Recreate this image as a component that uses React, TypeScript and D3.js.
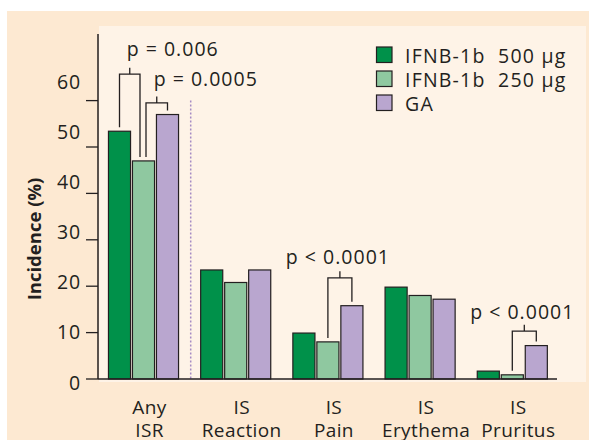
import React from "react";
import * as d3 from "d3";

const categoryTop = ["Any", "IS", "IS", "IS", "IS"];
const categoryBottom = ["ISR", "Reaction", "Pain", "Erythema", "Pruritus"];
const seriesNames = ["IFNB-1b  500 μg", "IFNB-1b  250 μg", "GA"];
const values500 = [53.4, 23.5, 9.9, 19.8, 1.7];
const values250 = [47.0, 20.8, 8.0, 18.0, 0.9];
const valuesGA = [57.0, 23.5, 15.8, 17.2, 7.2];
const yTicks = [0, 10, 20, 30, 40, 50, 60];
const yTitle = "Incidence (%)";

// p-value brackets: category index, from bar, to bar, bracket level (%), label level (%)
const bracketCat = [0, 0, 2, 4];
const bracketFrom = [0, 1, 1, 1];
const bracketTo = [1, 2, 2, 2];
const bracketLevel = [65.7, 59.5, 21.8, 10.3];
const bracketLabelLevel = [69.6, 63.1, 24.7, 12.9];
const bracketLabels = ["p = 0.006", "p = 0.0005", "p < 0.0001", "p < 0.0001"];

const W = 589;
const H = 440;
const FONT = "'Open Sans', Lato, sans-serif";
const colors = ["#00914a", "#8fc8a0", "#b9a6cf"];
const ink = "#231f20";
const FS = 19.5;
const LS = 0.8;

export default function App() {
  const series = [values500, values250, valuesGA];
  const y = d3.scaleLinear().domain([0, 60]).range([379, 100.6]);
  const yLabel = d3.scaleLinear().domain([0, 60]).range([382, 81]);
  const x = d3
    .scaleBand<number>()
    .domain(d3.range(categoryTop.length))
    .range([97.4, 558.4])
    .paddingInner(0.24)
    .paddingOuter(0.12);
  const xi = d3
    .scaleBand<number>()
    .domain([0, 1, 2])
    .range([0, x.bandwidth()])
    .paddingInner(0.08);
  const barCenter = (c: number, s: number) =>
    (x(c) as number) + (xi(s) as number) + xi.bandwidth() / 2;
  const nudgeFrom = [0, 2.5, 0, 0];
  const nudgeTo = [-3.5, 0, 0, 0];

  return (
    <svg
      width={W}
      height={H}
      style={{ position: "absolute", left: 0, top: 0 }}
      fontFamily={FONT}
    >
      <rect x={0} y={0} width={W} height={H} fill="#ffffff" />
      <rect x={7} y={11} width={W - 7} height={H - 11} fill="#fde9d2" />
      <rect x={99} y={26} width={487} height={356} fill="#fef3e7" />

      {/* dotted separator */}
      <line
        x1={190.7}
        x2={190.7}
        y1={y(60)}
        y2={y(0)}
        stroke="#a58cc4"
        strokeWidth={1.5}
        strokeDasharray="2,2"
      />

      {/* bars */}
      {categoryTop.map((_, c) =>
        series.map((vals, s) => (
          <rect
            key={`b${c}-${s}`}
            x={(x(c) as number) + (xi(s) as number)}
            y={y(vals[c])}
            width={xi.bandwidth()}
            height={y(0) - y(vals[c])}
            fill={colors[s]}
            stroke={ink}
            strokeWidth={1.2}
          />
        ))
      )}

      {/* axes */}
      <line x1={98} x2={98} y1={34} y2={y(0)} stroke={ink} strokeWidth={1.5} />
      <line x1={98} x2={557} y1={y(0)} y2={y(0)} stroke={ink} strokeWidth={1.5} />
      {yTicks.map((t) => (
        <g key={`t${t}`}>
          <line x1={86} x2={98} y1={y(t)} y2={y(t)} stroke={ink} strokeWidth={1.3} />
          <text
            x={81}
            y={yLabel(t)}
            textAnchor="end"
            dominantBaseline="central"
            fontSize={FS}
            letterSpacing={LS}
            fill={ink}
          >
            {t}
          </text>
        </g>
      ))}
      <text
        transform="translate(33,239) rotate(-90)"
        textAnchor="middle"
        dominantBaseline="central"
        fontSize={18.5}
        fontWeight="bold"
        fill={ink}
      >
        {yTitle}
      </text>

      {/* category labels */}
      {categoryTop.map((t, c) => {
        const cx = (x(c) as number) + x.bandwidth() / 2 + 6;
        return (
          <g key={`c${c}`}>
            <text x={cx} y={413.5} textAnchor="middle" fontSize={19} letterSpacing={0.4} fill={ink}>
              {t}
            </text>
            <text x={cx} y={436.5} textAnchor="middle" fontSize={19} letterSpacing={0.4} fill={ink}>
              {categoryBottom[c]}
            </text>
          </g>
        );
      })}

      {/* brackets */}
      {bracketLabels.map((lab, i) => {
        const c = bracketCat[i];
        const a = bracketFrom[i];
        const b = bracketTo[i];
        const x1 = barCenter(c, a) + nudgeFrom[i];
        const x2 = barCenter(c, b) + nudgeTo[i];
        const yl = y(bracketLevel[i]);
        const ya = y(series[a][c]) - 4;
        const yb = y(series[b][c]) - 4;
        const xm = (x1 + x2) / 2;
        const first = c === 0;
        return (
          <g key={`p${i}`}>
            <path
              d={`M${x1},${ya}V${yl}H${x2}V${yb}M${xm},${yl}V${yl - 6.5}`}
              fill="none"
              stroke={ink}
              strokeWidth={1.3}
            />
            <text
              x={first ? xm - 3 : xm - 2}
              y={y(bracketLabelLevel[i])}
              textAnchor={first ? "start" : "middle"}
              fontSize={FS}
              letterSpacing={1}
              fill={ink}
            >
              {lab}
            </text>
          </g>
        );
      })}

      {/* legend */}
      {seriesNames.map((n, s) => (
        <g key={`l${s}`}>
          <rect
            x={376.5}
            y={47 + s * 24}
            width={15.5}
            height={15.5}
            fill={colors[s]}
            stroke={ink}
            strokeWidth={1.2}
          />
          <text
            x={405}
            y={55 + s * 24}
            dominantBaseline="central"
            fontSize={FS}
            letterSpacing={1.2}
            fill={ink}
            style={{ whiteSpace: "pre" }}
          >
            {n}
          </text>
        </g>
      ))}
    </svg>
  );
}
